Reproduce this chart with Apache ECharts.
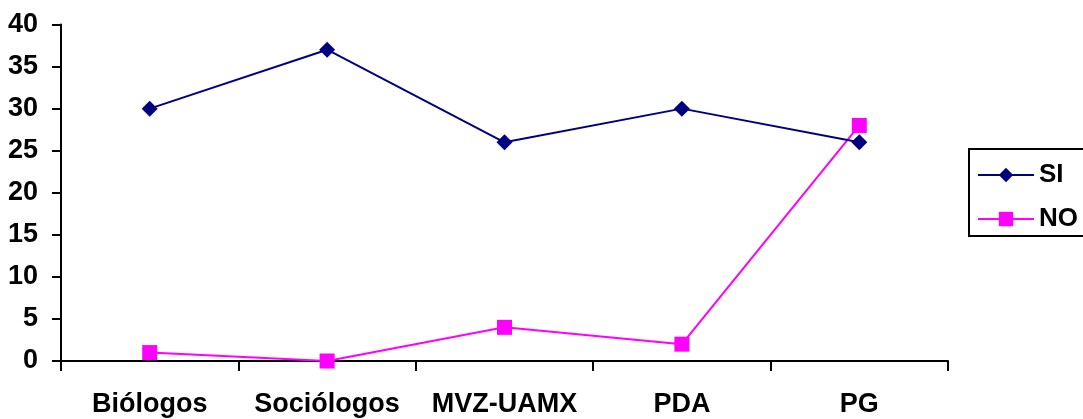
<!DOCTYPE html>
<html>
<head>
<meta charset="utf-8">
<script src="https://cdn.jsdelivr.net/npm/echarts@6/dist/echarts.min.js"></script>
<style>
  html, body { margin: 0; padding: 0; background: #fff; overflow: hidden; width: 1083px; height: 419px; }
  /* canvas is wider than the view so the legend box runs past the right edge */
  #chart { width: 1150px; height: 419px; }
</style>
</head>
<body>
<div id="chart"></div>
<script>
// Categories and values
const categories = ['Biólogos', 'Sociólogos', 'MVZ-UAMX', 'PDA', 'PG'];
const siValues = [30, 37, 26, 30, 26];
const noValues = [1, 0, 4, 2, 28];
const yTicks = { min: 0, max: 40, interval: 5 };

const FONT = '"Liberation Sans", Arial, sans-serif';
const chart = echarts.init(document.getElementById('chart'), null, { renderer: 'canvas' });

chart.setOption({
  animation: false,
  backgroundColor: '#ffffff',
  grid: { left: 61, right: 202, top: 24.5, bottom: 58, containLabel: false },
  // legend frame: top, left and bottom sides, running off the right edge
  graphic: [{
    type: 'polyline',
    shape: { points: [[1150, 149], [969, 149], [969, 236], [1150, 236]] },
    style: { fill: 'none', stroke: '#000', lineWidth: 2 },
    z: 10
  }],
  legend: {
    left: 969,
    top: 149,
    orient: 'vertical',
    padding: [13, 12, 8, 8],
    itemGap: 18,
    itemWidth: 56,
    itemHeight: 18,
    borderWidth: 0,
    textStyle: { fontFamily: FONT, fontWeight: 'bold', fontSize: 26, lineHeight: 24, color: '#000' },
    data: ['SI', 'NO']
  },
  xAxis: {
    type: 'category',
    data: categories,
    boundaryGap: true,
    axisLine: { lineStyle: { color: '#000', width: 2 } },
    axisTick: { show: true, length: 10, lineStyle: { color: '#000', width: 2 } },
    axisLabel: { fontFamily: FONT, fontWeight: 'bold', fontSize: 27, color: '#000', margin: 30, interval: 0 },
    splitLine: { show: false }
  },
  yAxis: {
    type: 'value',
    min: yTicks.min,
    max: yTicks.max,
    interval: yTicks.interval,
    axisLine: { show: true, lineStyle: { color: '#000', width: 2 } },
    axisTick: { show: true, length: 9, lineStyle: { color: '#000', width: 2 } },
    axisLabel: { fontFamily: FONT, fontWeight: 'bold', fontSize: 27, color: '#000', margin: 23 },
    splitLine: { show: false }
  },
  series: [
    {
      name: 'SI',
      type: 'line',
      data: siValues,
      symbol: 'diamond',
      symbolSize: 16,
      lineStyle: { color: '#000080', width: 2 },
      itemStyle: { color: '#000080' },
      z: 3
    },
    {
      name: 'NO',
      type: 'line',
      data: noValues,
      symbol: 'rect',
      symbolSize: 15,
      lineStyle: { color: '#FF00FF', width: 2 },
      itemStyle: { color: '#FF00FF' },
      z: 2
    }
  ]
});
</script>
</body>
</html>
